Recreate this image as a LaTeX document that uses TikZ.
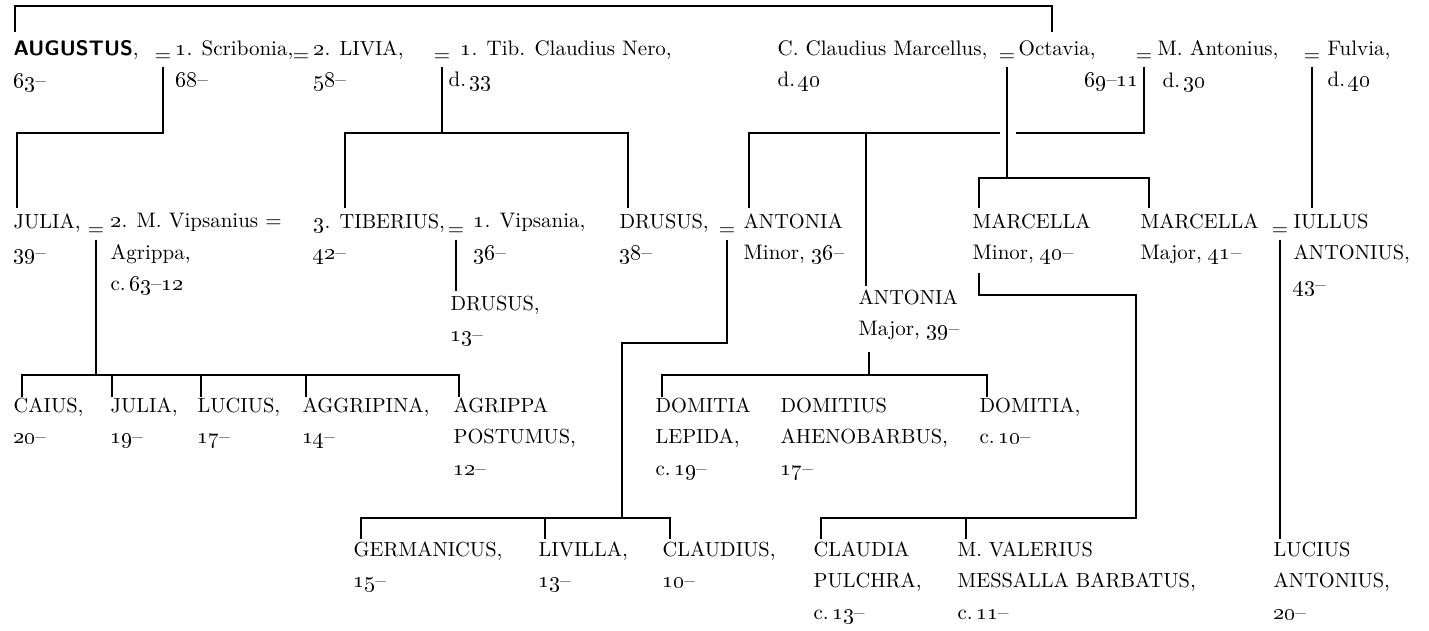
\documentclass[tikz,border=0pt]{standalone}
\usepackage{tikz}

\newcommand{\tabfont}{\fontsize{10.5}{15.75}\selectfont}
\newcommand{\smc}[1]{{\fontsize{10.2}{15.75}\selectfont #1}}
\newcommand{\osn}[1]{\oldstylenums{#1}}
\newcommand{\topstrut}{\rule{0pt}{11pt}}

\begin{document}
\begin{tikzpicture}[x=0.5pt, y=-0.5pt, line width=0.65pt,
    person/.style={anchor=north west, inner sep=0pt, align=left, yshift=11pt,
        font=\tabfont, execute at begin node=\topstrut},
    marriage/.style={anchor=base, inner xsep=0pt, inner ysep=2pt, font=\tabfont}]

    \useasboundingbox (0,0) rectangle (1429,631);

    % bus levels
    \coordinate (bus-top)  at (0,6);
    \coordinate (bus-a)    at (0,133);
    \coordinate (bus-marc) at (0,178);
    \coordinate (bus-mmin) at (0,295);
    \coordinate (bus-dru)  at (0,343);
    \coordinate (bus-c)    at (0,375);
    \coordinate (bus-d)    at (0,518);

    % first generation
    \node [person] (augustus)  at (13,62)   {\textsf{\bfseries AUGUSTUS},\\\osn{63}--};
    \node [marriage] (eq-scrib) at (163,62) {=};
    \node [person] (scribonia) at (175,62)  {\osn{1}. Scribonia,\\\osn{68}--};
    \node [marriage] (eq-livia) at (301,62) {=};
    \node [person] (livia)     at (313,62)  {\osn{2}. \smc{LIVIA},\\\osn{58}--};
    \node [marriage] (eq-nero) at (442,62)  {=};
    \node [person] (nero)      at (448,62)  {\hspace*{6pt}\osn{1}. Tib. Claudius Nero,\\d.\,\osn{33}};
    \node [person] (marcellus) at (777,62)  {C. Claudius Marcellus,\\d.\,\osn{40}};
    \node [marriage] (eq-oct) at (1007,62)  {=};
    \node [person] (octavia)   at (1018,62) {Octavia,\\\hspace*{33pt}\osn{69}--\osn{11}};
    \node [marriage] (eq-ant) at (1144,62)  {=};
    \node [person] (antonius)  at (1157,62) {M. Antonius,\\\hspace*{2.5pt}d.\,\osn{30}};
    \node [marriage] (eq-fulv) at (1312,62) {=};
    \node [person] (fulvia)    at (1327,62) {Fulvia,\\d.\,\osn{40}};

    % second generation
    \node [person] (julia)     at (13,235)   {\smc{JULIA},\\\osn{39}--};
    \node [marriage] (eq-jul) at (96,235)    {=};
    \node [person] (agrippa)   at (110,235)  {\osn{2}. M. Vipsanius =\\Agrippa,\\c.\,\osn{63}--\osn{12}};
    \node [person] (tiberius)  at (313,235)  {\osn{3}. \smc{TIBERIUS},\\\osn{42}--};
    \node [marriage] (eq-tib) at (456,235)   {=};
    \node [person] (vipsania)  at (473,235)  {\osn{1}. Vipsania,\\\osn{36}--};
    \node [person] (drusus)    at (619,235)  {\smc{DRUSUS},\\\osn{38}--};
    \node [marriage] (eq-dru) at (727,235)   {=};
    \node [person] (antmin)    at (743,235)  {\smc{ANTONIA}\\Minor, \osn{36}--};
    \node [person] (marcmin)   at (972,235)  {\smc{MARCELLA}\\Minor, \osn{40}--};
    \node [person] (marcmaj)   at (1140,235) {\smc{MARCELLA}\\Major, \osn{41}--};
    \node [marriage] (eq-mar) at (1280,235)  {=};
    \node [person] (iullus)    at (1293,235) {\smc{IULLUS}\\\smc{ANTONIUS},\\\osn{43}--};
    \node [person] (drusmin)   at (450,317)  {\smc{DRUSUS},\\\osn{13}--};
    \node [person] (antmaj)    at (858,311)  {\smc{ANTONIA}\\Major, \osn{39}--};

    % third generation
    \node [person] (caius)     at (13,419)  {\smc{CAIUS},\\\osn{20}--};
    \node [person] (juliamin)  at (110,419) {\smc{JULIA},\\\osn{19}--};
    \node [person] (lucius)    at (197,419) {\smc{LUCIUS},\\\osn{17}--};
    \node [person] (aggripina) at (302,419) {\smc{AGGRIPINA},\\\osn{14}--};
    \node [person] (postumus)  at (453,419) {\smc{AGRIPPA}\\\smc{POSTUMUS},\\\osn{12}--};
    \node [person] (domlep)    at (655,419) {\smc{DOMITIA}\\\smc{LEPIDA},\\c.\,\osn{19}--};
    \node [person] (ahenob)    at (780,419) {\smc{DOMITIUS}\\\smc{AHENOBARBUS},\\\osn{17}--};
    \node [person] (domitia)   at (979,419) {\smc{DOMITIA},\\c.\,\osn{10}--};

    % fourth generation
    \node [person] (germanicus) at (353,563)  {\smc{GERMANICUS},\\\osn{15}--};
    \node [person] (livilla)    at (538,563)  {\smc{LIVILLA},\\\osn{13}--};
    \node [person] (claudius)   at (662,563)  {\smc{CLAUDIUS},\\\osn{10}--};
    \node [person] (claudia)    at (813,563)  {\smc{CLAUDIA}\\\smc{PULCHRA},\\c.\,\osn{13}--};
    \node [person] (messalla)   at (957,563)  {\smc{M. VALERIUS}\\\smc{MESSALLA BARBATUS},\\c.\,\osn{11}--};
    \node [person] (lucantonius) at (1273,563) {\smc{LUCIUS}\\\smc{ANTONIUS},\\\osn{20}--};

    % Augustus and Octavia
    \draw ([shift={(2,-8)}]augustus.north west) -- ([shift={(2,0)}]augustus.north west |- bus-top)
          -| ([shift={(34,-8)}]octavia.north west);

    % lines from marriages to children
    \draw (eq-scrib.south) -- (eq-scrib.south |- bus-a) -| ([shift={(4,-5)}]julia.north west);
    \draw (eq-nero.south) -- (eq-nero.south |- bus-a);
    \draw ([shift={(32,-5)}]tiberius.north west) |- ([shift={(9,0)}]drusus.north west |- bus-a)
          -- ([shift={(9,-5)}]drusus.north west);
    \draw (eq-oct.south) -- (eq-oct.south |- bus-marc);
    \draw ([shift={(7,-5)}]marcmin.north west) |- ([shift={(9,0)}]marcmaj.north west |- bus-marc)
          -- ([shift={(9,-5)}]marcmaj.north west);
    \draw (eq-ant.south) |- ([xshift=4.5pt]eq-oct.south |- bus-a);
    \draw ([xshift=-3.5pt]eq-oct.south |- bus-a) -| ([shift={(6,-5)}]antmin.north west);
    \draw ([shift={(8,-3)}]antmaj.north west) -- ([shift={(8,0)}]antmaj.north west |- bus-a);
    \draw (eq-fulv.south) -- ([shift={(19,-5)}]iullus.north west);

    % Julia and Agrippa
    \draw (eq-jul.south) -- (eq-jul.south |- bus-c);
    \draw ([shift={(9,0)}]caius.north west) |- ([shift={(6,0)}]postumus.north west |- bus-c)
          -- ([shift={(6,0)}]postumus.north west);
    \foreach \c/\dx in {juliamin/2, lucius/4, aggripina/4}
        \draw ([shift={(\dx,0)}]\c.north west) -- ([shift={(\dx,0)}]\c.north west |- bus-c);

    % Tiberius and Vipsania
    \draw (eq-tib.south) -- ([shift={(6,-4)}]drusmin.north west);

    % Drusus and Antonia Minor
    \draw (eq-dru.south) -- (eq-dru.south |- bus-dru) -| ([shift={(84,0)}]livilla.north west |- bus-d);
    \draw ([shift={(8,-2)}]germanicus.north west) |- ([shift={(8,0)}]claudius.north west |- bus-d)
          -- ([shift={(8,-2)}]claudius.north west);
    \draw ([shift={(7,-2)}]livilla.north west) -- ([shift={(7,0)}]livilla.north west |- bus-d);

    % Antonia Major
    \draw ([shift={(11,63)}]antmaj.north west) -- ([shift={(11,0)}]antmaj.north west |- bus-c);
    \draw ([shift={(7,0)}]domlep.north west) |- ([shift={(8,0)}]domitia.north west |- bus-c)
          -- ([shift={(8,0)}]domitia.north west);

    % Marcella Minor
    \draw ([shift={(7,60)}]marcmin.north west) |- ([shift={(179,0)}]messalla.north west |- bus-mmin)
          -- ([shift={(179,0)}]messalla.north west |- bus-d) -| ([shift={(8,-2)}]claudia.north west);
    \draw ([shift={(9,-2)}]messalla.north west) -- ([shift={(9,0)}]messalla.north west |- bus-d);

    % Marcella Major and Iullus
    \draw (eq-mar.south) -- ([shift={(7,-2)}]lucantonius.north west);

\end{tikzpicture}
\end{document}
